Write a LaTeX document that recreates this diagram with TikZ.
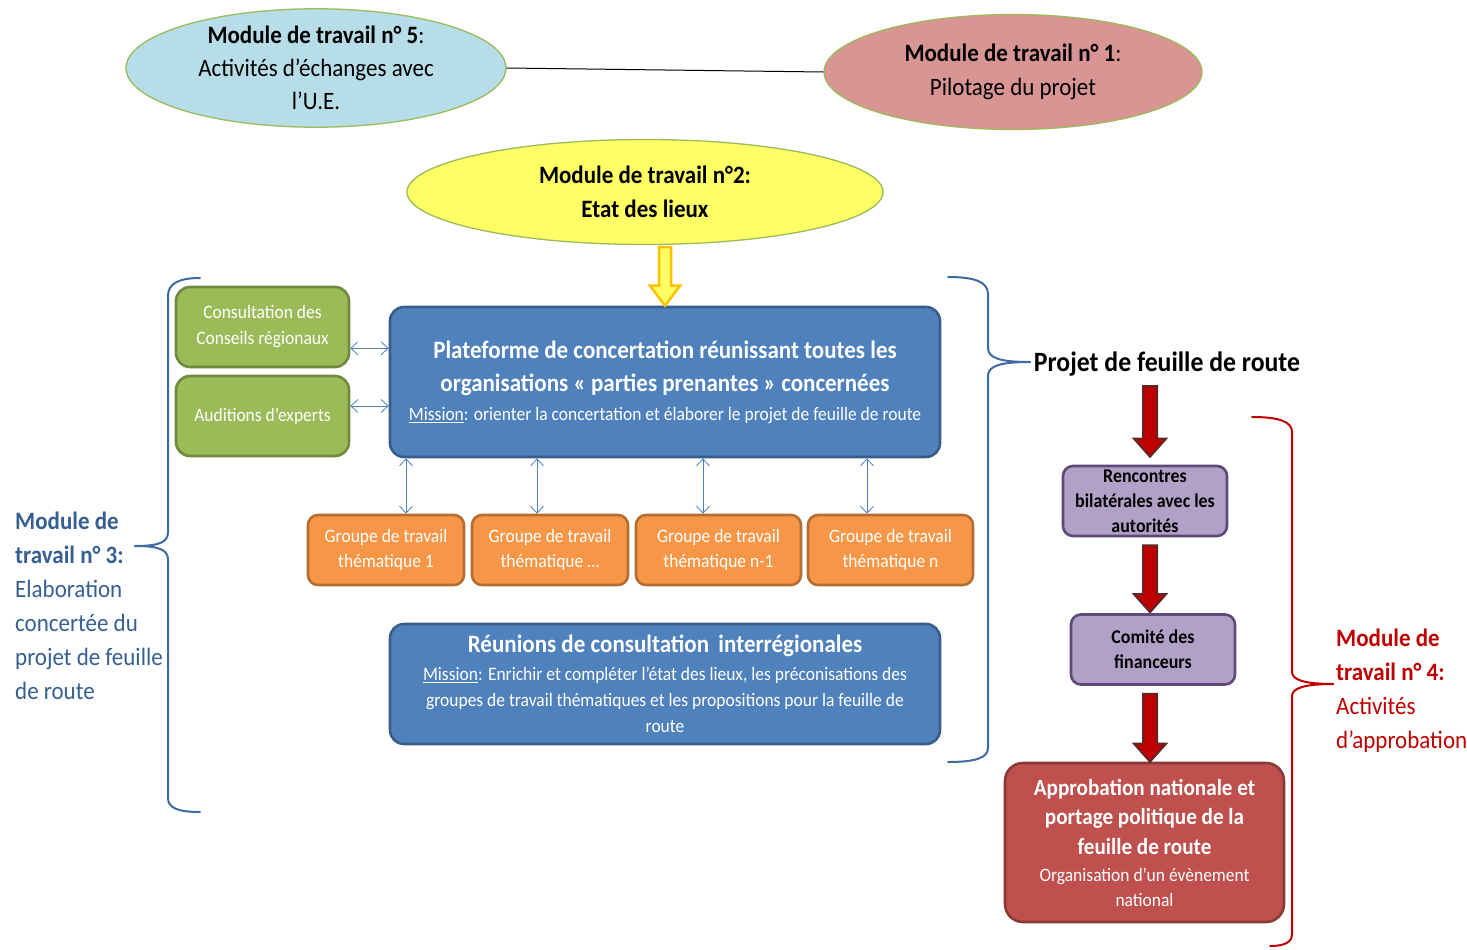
\documentclass[tikz,border=0pt]{standalone}
\usepackage{fontspec}
\setmainfont[FakeStretch=0.92]{Carlito}
\usetikzlibrary{shapes.geometric,arrows.meta,calc}
\definecolor{ellblue}{HTML}{B7DDE8}
\definecolor{ellpink}{HTML}{D99594}
\definecolor{ellyellow}{HTML}{FFFF66}
\definecolor{olive}{HTML}{9BBB59}
\definecolor{platblue}{HTML}{4F81BD}
\definecolor{platborder}{HTML}{385D8A}
\definecolor{greenfill}{HTML}{9BBB59}
\definecolor{greenborder}{HTML}{71893F}
\definecolor{orfill}{HTML}{F79646}
\definecolor{orborder}{HTML}{B66D31}
\definecolor{purfill}{HTML}{B2A1C7}
\definecolor{purborder}{HTML}{5F497A}
\definecolor{redfill}{HTML}{C0504D}
\definecolor{redborder}{HTML}{8C3836}
\definecolor{darkred}{HTML}{C00000}
\definecolor{arrowborder}{HTML}{632523}
\definecolor{yelborder}{HTML}{FFC000}
\definecolor{bracecol}{HTML}{3E6BA0}
\definecolor{mthree}{HTML}{376092}
\newcommand\setfs[2]{\fontsize{#1}{#2}\selectfont}
\newcommand\fatarrow[6]{\draw[#6] let \p1=(#1), \p2=(#2) in
  (\x1-#3,\y1) -- (\x1+#3,\y1) -- (\x1+#3,\y2+#5) -- (\x1+#4,\y2+#5) --
  (\x1,\y2) -- (\x1-#4,\y2+#5) -- (\x1-#3,\y2+#5) -- cycle;}
\tikzset{
  ell/.style={ellipse, draw=olive, line width=1.3pt, inner sep=0pt, align=center},
  rbox/.style={rectangle, rounded corners=14pt, line width=2.6pt, align=center, inner sep=0pt},
  dbl/.style={draw=platblue, line width=0.8pt,
    {Straight Barb[length=7pt,width=13pt]}-{Straight Barb[length=7pt,width=13pt]}},
  brace/.style={line width=2pt, line join=round, line cap=round},
}
\begin{document}
\begin{tikzpicture}[x=1pt,y=-1pt]
\useasboundingbox[fill=white] (0,0) rectangle (1467,950);

% ellipses
\node[ell, fill=ellblue, minimum width=380, minimum height=113,
  font=\setfs{25}{33}] (e5) at (316,68)
  {\textbf{Module de travail n° 5}:\\Activités d’échanges avec\\l’U.E.};
\node[ell, fill=ellpink, minimum width=378, minimum height=115,
  font=\setfs{25}{34}] (e1) at (1013,72)
  {\textbf{Module de travail n° 1}:\\Pilotage du projet};
\node[ell, fill=ellyellow, minimum width=476, minimum height=105,
  font=\bfseries\setfs{25}{34}] (e2) at (645,192)
  {Module de travail n°2:\\Etat des lieux};
\draw[line width=1pt] (e5.east) -- (e1.west);

% plateforme
\node[rbox, fill=platblue, draw=platborder, minimum width=550, minimum height=150,
  text=white, font=\setfs{25}{33}] (plat) at (665,382)
  {\textbf{Plateforme de concertation réunissant toutes les}\\
   \textbf{organisations « parties prenantes » concernées}\\[-4pt]
   {\setfs{19}{26}\underline{Mission}: orienter la concertation et élaborer le projet de feuille de route}};

% green boxes
\node[rbox, fill=greenfill, draw=greenborder, minimum width=173, minimum height=80,
  text=white, font=\setfs{19}{26}] (g1) at (262.5,327)
  {Consultation des\\Conseils régionaux};
\node[rbox, fill=greenfill, draw=greenborder, minimum width=173, minimum height=80,
  text=white, font=\setfs{19}{26}] (g2) at (262.5,416)
  {Auditions d’experts};
\draw[dbl] ([yshift=20pt]g1.south east) -- ([yshift=20pt]g1.south east -| plat.west);
\draw[dbl] ([yshift=10pt]g2.east) -- ([yshift=10pt]g2.east -| plat.west);

% orange boxes
\tikzset{obox/.style={rbox, rounded corners=10pt, fill=orfill, draw=orborder, minimum height=70,
  text=white, font=\setfs{19}{25}}}
\node[obox, minimum width=156] (o1) at (386,550) {Groupe de travail\\thématique 1};
\node[obox, minimum width=156] (o2) at (550,550) {Groupe de travail\\thématique …};
\node[obox, minimum width=165] (o3) at (718.5,550) {Groupe de travail\\thématique n-1};
\node[obox, minimum width=165] (o4) at (890.5,550) {Groupe de travail\\thématique n};
\draw[dbl] ([xshift=20pt]o1.north) -- ([xshift=20pt]o1.north |- plat.south);
\draw[dbl] ([xshift=-13pt]o2.north) -- ([xshift=-13pt]o2.north |- plat.south);
\draw[dbl] ([xshift=-15.5pt]o3.north) -- ([xshift=-15.5pt]o3.north |- plat.south);
\draw[dbl] ([xshift=-23.5pt]o4.north) -- ([xshift=-23.5pt]o4.north |- plat.south);

% reunions
\node[rbox, fill=platblue, draw=platborder, minimum width=550, minimum height=120,
  text=white, font=\setfs{19}{26}] (reun) at (665,684)
  {{\bfseries\setfs{25}{26}Réunions de consultation\, interrégionales}\\[2pt]
   \underline{Mission}: Enrichir et compléter l’état des lieux, les préconisations des\\
   groupes de travail thématiques et les propositions pour la feuille de\\
   route};

% yellow arrow
\coordinate (ys) at ([yshift=-2pt]plat.north |- e2.south);
\fatarrow{ys}{plat.north}{6pt}{15pt}{20pt}{fill=ellyellow, draw=yelborder, line width=2.5pt, line join=miter}

% left brace
\draw[brace, draw=bracecol] (200,278) .. controls (178,278) and (168,284) .. (168,296) -- (168,532)
  .. controls (168,542) and (160,546) .. (135,546);
\draw[brace, draw=bracecol] (135,546) .. controls (160,546) and (168,550) .. (168,560) -- (168,798)
  .. controls (168,808) and (178,812) .. (200,812);
\node[anchor=north west, align=left, text=mthree, font=\setfs{25}{34}, inner sep=0pt] (m3) at (15,512)
  {\textbf{Module de}\\\textbf{travail n° 3:}\\Elaboration\\concertée du\\projet de feuille\\de route};

% right blue brace
\draw[brace, draw=bracecol] (948,277) .. controls (975,277) and (988,282) .. (988,294) -- (988,348)
  .. controls (988,358) and (1000,362) .. (1030,362);
\draw[brace, draw=bracecol] (1030,362) .. controls (1000,362) and (988,366) .. (988,376) -- (988,748)
  .. controls (988,758) and (975,762) .. (948,762);
\node[font=\bfseries\setfs{28}{34}, inner sep=0pt] (proj) at (1167,364) {Projet de feuille de route};

% approval chain
\tikzset{pbox/.style={rbox, rounded corners=10pt, fill=purfill, draw=purborder, minimum width=164,
  minimum height=70, font=\bfseries\setfs{19.5}{25}}}
\node[pbox] (renc) at (1145,501) {Rencontres\\bilatérales avec les\\autorités};
\node[pbox] (comite) at (1153,649.5) {Comité des\\financeurs};
\node[rbox, rounded corners=18pt, fill=redfill, draw=redborder, minimum width=279, minimum height=159,
  text=white, font=\bfseries\setfs{23}{29.5}] (appro) at (1144.5,842.5)
  {Approbation nationale et\\portage politique de la\\feuille de route\\[-2pt]
   {\mdseries\setfs{19}{24}Organisation d’un évènement}\\[-5pt]{\mdseries\setfs{19}{24}national}};

\coordinate (r1s) at (1150,386);
\coordinate (r1e) at ([yshift=8pt]renc.north -| r1s);
\coordinate (r2s) at ([yshift=-8pt]renc.south -| r1s);
\coordinate (r2e) at ([yshift=1pt]comite.north -| r1s);
\coordinate (r3s) at ([yshift=-8pt]comite.south -| r1s);
\coordinate (r3e) at (appro.north -| r1s);
\tikzset{redarrow/.style={fill=darkred, draw=arrowborder, line width=2pt, line join=miter}}
\fatarrow{r1s}{r1e}{7pt}{16pt}{18pt}{redarrow}
\fatarrow{r2s}{r2e}{7pt}{16pt}{18pt}{redarrow}
\fatarrow{r3s}{r3e}{7pt}{16pt}{18pt}{redarrow}

% red brace
\draw[brace, draw=darkred] (1252,417) .. controls (1280,417) and (1292,422) .. (1292,432) -- (1292,672)
  .. controls (1292,680) and (1305,684) .. (1333,684);
\draw[brace, draw=darkred] (1333,684) .. controls (1305,684) and (1292,688) .. (1292,696) -- (1292,934)
  .. controls (1292,942) and (1285,946) .. (1270,946);
\node[anchor=north west, align=left, text=darkred, font=\setfs{25}{34}, inner sep=0pt] (m4) at (1336,629)
  {\textbf{Module de}\\\textbf{travail n° 4:}\\Activités\\d’approbation};
\end{tikzpicture}
\end{document}
